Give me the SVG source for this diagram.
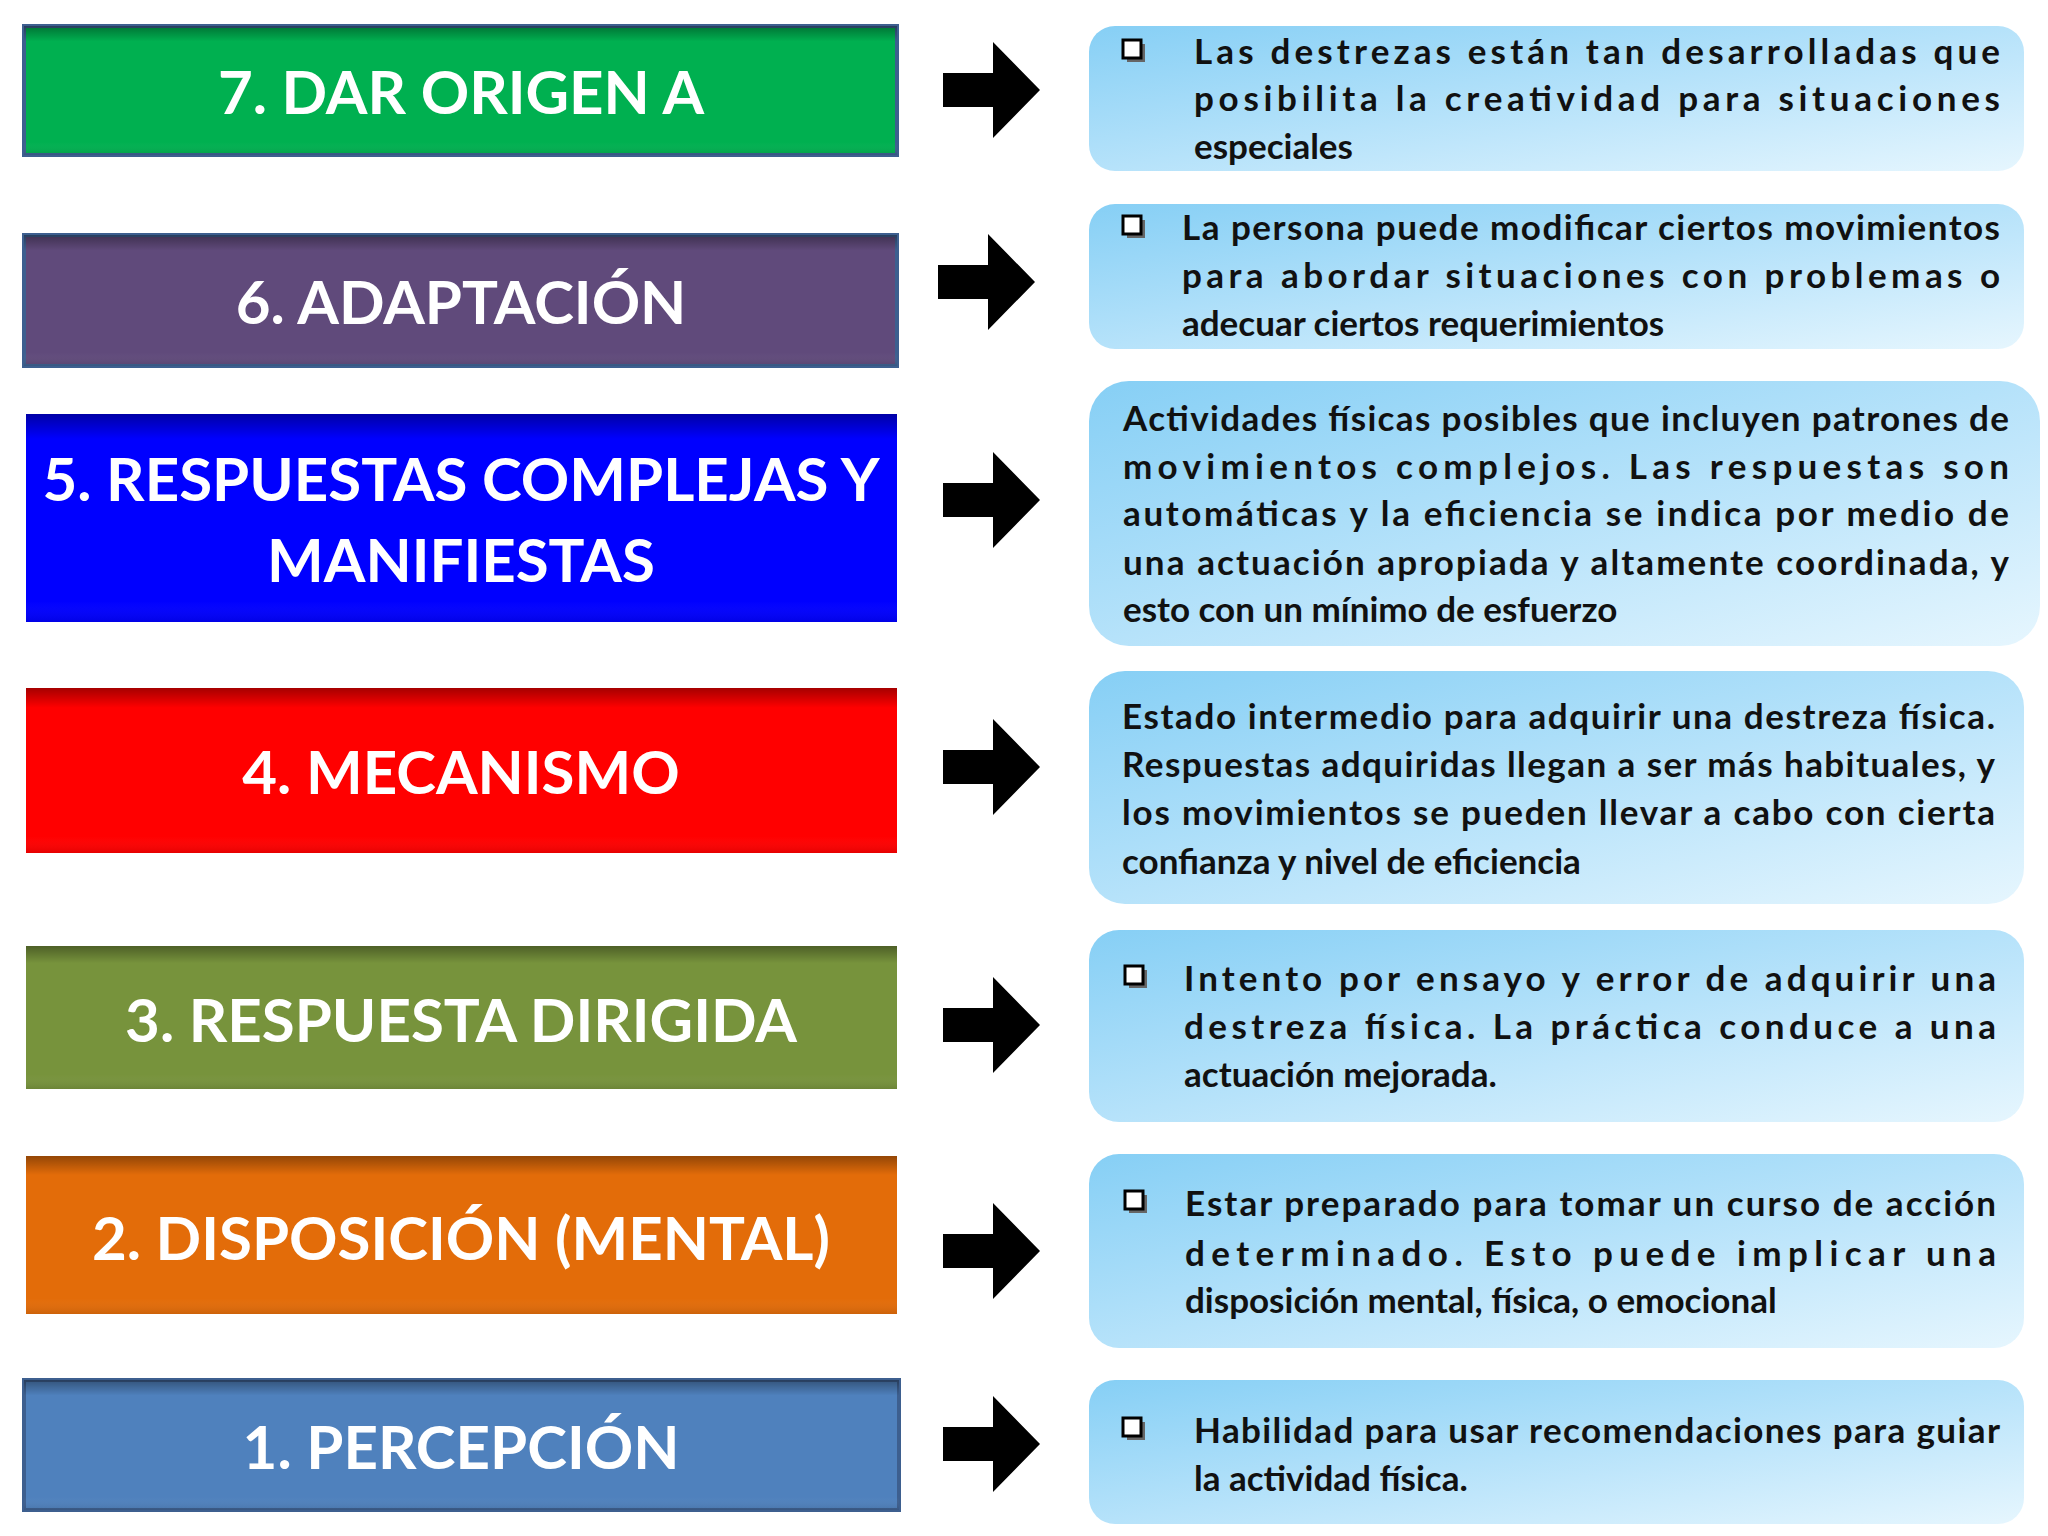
<svg xmlns="http://www.w3.org/2000/svg" width="2048" height="1536" viewBox="0 0 2048 1536">
<defs>
<linearGradient id="shade" x1="0" y1="0" x2="0" y2="1"><stop offset="0" stop-color="#000" stop-opacity="0.35"/><stop offset="0.12" stop-color="#000" stop-opacity="0"/><stop offset="0.9" stop-color="#fff" stop-opacity="0"/><stop offset="1" stop-color="#000" stop-opacity="0.1"/></linearGradient>
<linearGradient id="blue" x1="0" y1="0" x2="1" y2="1"><stop offset="0" stop-color="#86cff5"/><stop offset="0.6" stop-color="#bfe6fb"/><stop offset="1" stop-color="#e6f6fe"/></linearGradient>
<path id="arr" d="M0,-17 H50 V-48 L97,0 L50,48 V17 H0 Z"/>
<g id="cb"><rect x="4" y="4" width="18" height="18" fill="#666"/><rect x="0" y="0" width="18" height="18" fill="#fff" stroke="#000" stroke-width="3"/></g>
</defs>
<style>
.lt{font-family:Lato,"Open Sans",sans-serif;font-weight:bold;font-size:60px;fill:#fff;text-anchor:middle}
.rt{font-family:Lato,"Open Sans",sans-serif;font-weight:bold;font-size:35px;fill:#111}
.lb{stroke:#3d5f8f;stroke-width:4}
.rb{fill:url(#blue)}
</style>
<rect width="2048" height="1536" fill="#fff"/>
<g id="n7"><rect x="24" y="26" width="873" height="129" fill="#00b050" class="lb"/><rect x="24" y="26" width="873" height="129" fill="url(#shade)"/><text class="lt" x="461" y="114">7. DAR ORIGEN A</text></g>
<g id="n6"><rect x="24" y="235" width="873" height="131" fill="#604a7b" class="lb"/><rect x="24" y="235" width="873" height="131" fill="url(#shade)"/><text class="lt" x="461" y="324">6. ADAPTACIÓN</text></g>
<g id="n5"><rect x="26" y="414" width="871" height="208" fill="#0000ff"/><rect x="26" y="414" width="871" height="208" fill="url(#shade)"/><text class="lt" x="461" y="501">5. RESPUESTAS COMPLEJAS Y</text><text class="lt" x="461" y="582">MANIFIESTAS</text></g>
<g id="n4"><rect x="26" y="688" width="871" height="165" fill="#ff0000"/><rect x="26" y="688" width="871" height="165" fill="url(#shade)"/><text class="lt" x="461" y="794">4. MECANISMO</text></g>
<g id="n3"><rect x="26" y="946" width="871" height="143" fill="#77933c"/><rect x="26" y="946" width="871" height="143" fill="url(#shade)"/><text class="lt" x="461" y="1042">3. RESPUESTA DIRIGIDA</text></g>
<g id="n2"><rect x="26" y="1156" width="871" height="158" fill="#e36c09"/><rect x="26" y="1156" width="871" height="158" fill="url(#shade)"/><text class="lt" x="461" y="1260">2. DISPOSICIÓN (MENTAL)</text></g>
<g id="n1"><rect x="24" y="1380" width="875" height="130" fill="#4f81bd" class="lb"/><rect x="24" y="1380" width="875" height="130" fill="url(#shade)"/><text class="lt" x="461" y="1469">1. PERCEPCIÓN</text></g>
<g id="connectors" fill="#000">
<use href="#arr" x="943" y="90"/><use href="#arr" x="938" y="282"/><use href="#arr" x="943" y="500"/><use href="#arr" x="943" y="767"/><use href="#arr" x="943" y="1025"/><use href="#arr" x="943" y="1251"/><use href="#arr" x="943" y="1444"/>
</g>
<g id="d7"><rect class="rb" x="1089" y="26" width="935" height="145" rx="26"/><use href="#cb" x="1123" y="40"/>
<text class="rt" x="1194" y="64" textLength="806" lengthAdjust="spacing">Las destrezas están tan desarrolladas que</text>
<text class="rt" x="1194" y="111" textLength="806" lengthAdjust="spacing">posibilita la creatividad para situaciones</text>
<text class="rt" x="1194" y="159">especiales</text></g>
<g id="d6"><rect class="rb" x="1089" y="204" width="935" height="145" rx="26"/><use href="#cb" x="1123" y="216"/>
<text class="rt" x="1182" y="240" textLength="818" lengthAdjust="spacing">La persona puede modificar ciertos movimientos</text>
<text class="rt" x="1182" y="288" textLength="818" lengthAdjust="spacing">para abordar situaciones con problemas o</text>
<text class="rt" x="1182" y="336">adecuar ciertos requerimientos</text></g>
<g id="d5"><rect class="rb" x="1089" y="381" width="951" height="265" rx="40"/>
<text class="rt" x="1123" y="431" textLength="886" lengthAdjust="spacing">Actividades físicas posibles que incluyen patrones de</text>
<text class="rt" x="1123" y="479" textLength="886" lengthAdjust="spacing">movimientos complejos. Las respuestas son</text>
<text class="rt" x="1123" y="526" textLength="886" lengthAdjust="spacing">automáticas y la eficiencia se indica por medio de</text>
<text class="rt" x="1123" y="575" textLength="886" lengthAdjust="spacing">una actuación apropiada y altamente coordinada, y</text>
<text class="rt" x="1123" y="622">esto con un mínimo de esfuerzo</text></g>
<g id="d4"><rect class="rb" x="1089" y="671" width="935" height="233" rx="36"/>
<text class="rt" x="1122" y="729" textLength="873" lengthAdjust="spacing">Estado intermedio para adquirir una destreza física.</text>
<text class="rt" x="1122" y="777" textLength="873" lengthAdjust="spacing">Respuestas adquiridas llegan a ser más habituales, y</text>
<text class="rt" x="1122" y="825" textLength="873" lengthAdjust="spacing">los movimientos se pueden llevar a cabo con cierta</text>
<text class="rt" x="1122" y="874">confianza y nivel de eficiencia</text></g>
<g id="d3"><rect class="rb" x="1089" y="930" width="935" height="192" rx="30"/><use href="#cb" x="1125" y="966"/>
<text class="rt" x="1184" y="991" textLength="812" lengthAdjust="spacing">Intento por ensayo y error de adquirir una</text>
<text class="rt" x="1184" y="1039" textLength="812" lengthAdjust="spacing">destreza física. La práctica conduce a una</text>
<text class="rt" x="1184" y="1087">actuación mejorada.</text></g>
<g id="d2"><rect class="rb" x="1089" y="1154" width="935" height="194" rx="30"/><use href="#cb" x="1125" y="1191"/>
<text class="rt" x="1185" y="1216" textLength="811" lengthAdjust="spacing">Estar preparado para tomar un curso de acción</text>
<text class="rt" x="1185" y="1266" textLength="811" lengthAdjust="spacing">determinado. Esto puede implicar una</text>
<text class="rt" x="1185" y="1313">disposición mental, física, o emocional</text></g>
<g id="d1"><rect class="rb" x="1089" y="1380" width="935" height="144" rx="26"/><use href="#cb" x="1123" y="1418"/>
<text class="rt" x="1194" y="1443" textLength="806" lengthAdjust="spacing">Habilidad para usar recomendaciones para guiar</text>
<text class="rt" x="1194" y="1491">la actividad física.</text></g>
</svg>
